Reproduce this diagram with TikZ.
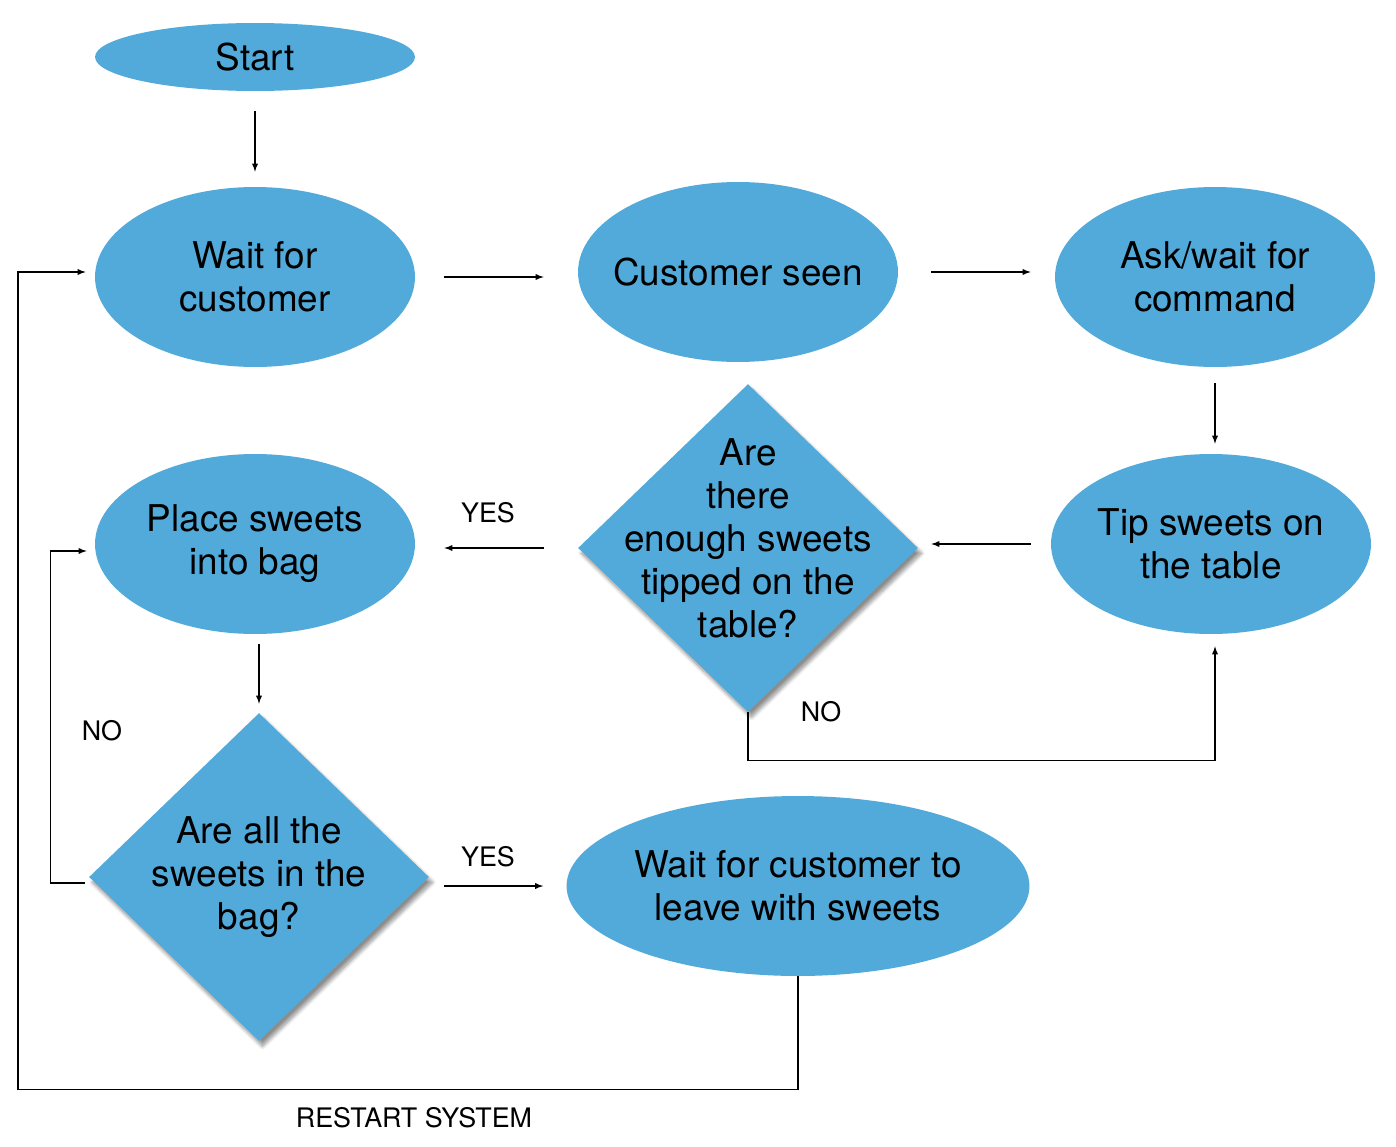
\documentclass[tikz,border=0pt]{standalone}
\usepackage{fontspec}
\setmainfont{TeX Gyre Heros}
\usetikzlibrary{shapes.geometric,shadows.blur}
\definecolor{bubble}{HTML}{52AADA}

\begin{document}
\begin{tikzpicture}[x=0.02cm, y=-0.02cm]
    \tikzstyle{main}=[ellipse, fill=bubble, minimum width=6.4cm, minimum height=3.6cm, inner sep=-8pt, align=center, font=\fontsize{21}{24.5}\selectfont]
    \tikzstyle{decision}=[diamond, fill=bubble, minimum width=6.8cm, minimum height=6.56cm, inner sep=-45pt, align=center, font=\fontsize{21}{24.5}\selectfont, blur shadow={shadow xshift=2pt, shadow yshift=-3pt, shadow blur steps=8, shadow opacity=45}]
    \tikzstyle{connect}=[-latex, line width=0.6pt]
    \tikzstyle{lbl}=[font=\fontsize{15.3}{18}\selectfont]

      \useasboundingbox (0,0) rectangle (1396,1146);

      \node[main, minimum height=1.36cm] (start) at (255,57) {Start};
      \node[main] (wait) at (255,277) {Wait for\\customer};
      \node[main] (seen) at (738,272) {Customer seen};
      \node[main] (ask) at (1215,277) {Ask/wait for\\command};
      \node[main] (tip) at (1211,544) {Tip sweets on\\the table};
      \node[decision] (enough) at (748,548) {Are\\there\\enough sweets\\tipped on the\\table?\\[-13pt]};
      \node[main] (place) at (255,544) {Place sweets\\into bag};
      \node[decision] (inbag) at (259,877) {Are all the\\sweets in the\\bag?};
      \node[main, minimum width=9.26cm] (leave) at (798,886) {Wait for customer to\\leave with sweets};

      \node[lbl] (yes1) at (488,513) {YES};
      \node[lbl] (yes2) at (488,857) {YES};
      \node[lbl] (no1) at (821,712) {NO};
      \node[lbl] (no2) at (102,731) {NO};
      \node[lbl] (restart) at (414,1118) {RESTART SYSTEM};

      \path[connect]
        (start.south) edge [shorten <=0.4cm, shorten >=0.3cm] (wait.north)
        (wait.east) edge [shorten <=0.58cm, shorten >=0.68cm] (wait.east -| seen.west)
        (seen.east) edge [shorten <=0.66cm, shorten >=0.48cm] (seen.east -| ask.west)
        (ask.south) edge [shorten <=0.32cm, shorten >=0.2cm] (ask.south |- tip.north)
        (tip.west) edge [shorten <=0.4cm, shorten >=0.26cm] (tip.west -| enough.east)
        (enough.west) edge [shorten <=0.68cm, shorten >=0.58cm] (enough.west -| place.east)
        (inbag.north |- place.south) edge [shorten <=0.2cm, shorten >=0.18cm] (inbag.north)
        (leave.west -| inbag.east) edge [shorten <=0.3cm, shorten >=0.46cm] (leave.west);

      % loops back
      \draw[connect, shorten >=0.24cm] (enough.south) -- ++(0,48) -| ([xshift=0.08cm]tip.south);
      \draw[connect, shorten >=0.16cm] ([xshift=-0.08cm, yshift=-0.12cm]inbag.west) -- ++(-34,0) |- ([yshift=-0.14cm]place.west);
      \draw[connect, shorten >=0.18cm] (leave.south) -- ++(0,113) -- ++(-780,0) |- ([yshift=0.1cm]wait.west);
    \end{tikzpicture}
\end{document}
